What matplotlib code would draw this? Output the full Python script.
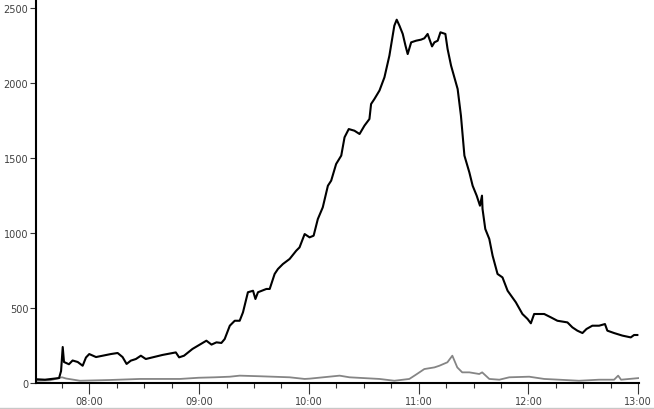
import matplotlib
matplotlib.use("Agg")
import matplotlib.pyplot as plt
from matplotlib.ticker import FixedLocator, MultipleLocator
from matplotlib.lines import Line2D

# time in minutes after midnight
black_t = [450.9, 455.8, 461.3, 463.5, 464.6, 465.5, 466.2, 468.9, 470.9, 473.7, 476.4, 478.2,
           480.0, 483.7, 487.3, 491.8, 495.5, 498.2, 500.4, 502.7, 505.5, 508.2, 510.9, 514.6,
           520.0, 525.5, 527.3, 529.1, 531.8, 536.4, 541.9, 544.0, 546.8, 549.5, 552.2, 554.0,
           556.8, 559.5, 562.2, 564.0, 566.7, 569.5, 570.8, 572.2, 576.8, 578.6, 581.3, 583.1,
           585.8, 589.5, 593.1, 594.9, 597.7, 600.4, 602.6, 604.9, 607.6, 610.4, 612.2, 614.9,
           617.7, 619.5, 621.8, 624.9, 627.7, 630.4, 633.1, 634.0, 635.8, 638.6, 641.3, 644.0,
           646.7, 648.0, 649.5, 651.3, 652.8, 654.0, 655.9, 658.6, 661.3, 663.1, 664.9, 667.3,
           668.6, 670.4, 671.9, 674.6, 675.8, 677.7, 679.5, 681.3, 683.1, 685.0, 687.7, 689.5,
           691.7, 693.5, 694.6, 694.9, 696.4, 698.6, 700.4, 703.1, 705.8, 708.6, 713.1, 716.7,
           719.5, 721.3, 723.1, 728.6, 732.2, 735.8, 741.3, 744.0, 746.7, 749.5, 751.7, 754.9,
           758.6, 761.8, 763.1, 766.8, 771.3, 775.9, 777.7, 779.5]
black_v = [25, 22, 30, 33, 80, 240, 140, 125, 150, 140, 115, 170,
           193, 173, 182, 193, 200, 173, 127, 149, 160, 182, 160, 171,
           187, 200, 204, 171, 182, 227, 267, 282, 256, 271, 267, 293,
           382, 415, 415, 471, 605, 615, 560, 605, 627, 627, 727, 760,
           793, 827, 882, 904, 993, 971, 982, 1093, 1171, 1315, 1349, 1460,
           1516, 1638, 1693, 1682, 1660, 1716, 1760, 1860, 1893, 1950, 2038, 2182,
           2382, 2422, 2382, 2327, 2249, 2193, 2271, 2282, 2289, 2298, 2327, 2244,
           2271, 2282, 2338, 2327, 2227, 2116, 2038, 1960, 1782, 1516, 1404, 1315,
           1249, 1182, 1249, 1160, 1027, 960, 849, 727, 704, 615, 538, 460,
           427, 398, 460, 460, 438, 415, 404, 371, 349, 333, 360, 382,
           382, 393, 349, 333, 316, 304, 320, 320]

gray_t = [450.9, 458.6, 465.1, 467.3, 474.9, 491.3, 507.7, 529.5, 539.8, 548.6, 556.8, 562.2,
          573.1, 589.5, 597.7, 600.4, 616.8, 622.2, 638.6, 646.7, 654.9, 658.2, 663.1, 668.6,
          671.3, 675.7, 678.4, 681.1, 683.8, 687.7, 693.1, 694.7, 698.6, 704.1, 709.5, 720.4,
          728.6, 736.7, 747.6, 758.6, 766.8, 769.0, 770.6, 780.4]
gray_v = [15, 18, 38, 30, 15, 20, 27, 27, 35, 38, 42, 49,
          45, 38, 27, 29, 49, 38, 27, 15, 27, 53, 93, 104,
          115, 138, 182, 104, 71, 71, 60, 71, 27, 22, 38, 42,
          27, 22, 15, 22, 22, 49, 22, 33]

x_ticks = [480, 540, 600, 660, 720, 780]
x_labels = ["08:00", "09:00", "10:00", "11:00", "12:00", "13:00"]
y_ticks = [0, 500, 1000, 1500, 2000, 2500]

W, H = 654, 410
fig = plt.figure(figsize=(W / 100, H / 100), dpi=100)
fig.patch.set_facecolor("white")
ax = fig.add_axes([36 / W, 26 / H, (639 - 36) / W, 384 / H])

ax.plot(gray_t, gray_v, color="#858585", lw=1.3, zorder=2)
ax.plot(black_t, black_v, color="black", lw=1.5, zorder=3)

ax.set_xlim(450.9, 780.4)
ax.set_ylim(0, 2560)

ax.xaxis.set_major_locator(FixedLocator(x_ticks))
ax.set_xticklabels(x_labels)
ax.xaxis.set_minor_locator(MultipleLocator(15))
ax.yaxis.set_major_locator(FixedLocator(y_ticks))
ax.set_yticklabels([str(v) for v in y_ticks])

for s in ["top", "right"]:
    ax.spines[s].set_visible(False)
for s in ["left", "bottom"]:
    ax.spines[s].set_linewidth(1.5)
    ax.spines[s].set_color("black")

ax.tick_params(axis="x", which="major", length=8, width=0.8, color="#333333",
               labelsize=7, labelcolor="#404040", pad=1.5)
ax.tick_params(axis="x", which="minor", length=3.5, width=0.8, color="#333333")
ax.tick_params(axis="y", which="major", length=4.5, width=0.8, color="#333333",
               labelsize=7, labelcolor="#404040", pad=1)

fig.add_artist(Line2D([0, 1], [1.5 / H, 1.5 / H], transform=fig.transFigure,
                      color="#c8c8c8", lw=1.0))

fig.savefig("out.png", dpi=100)
